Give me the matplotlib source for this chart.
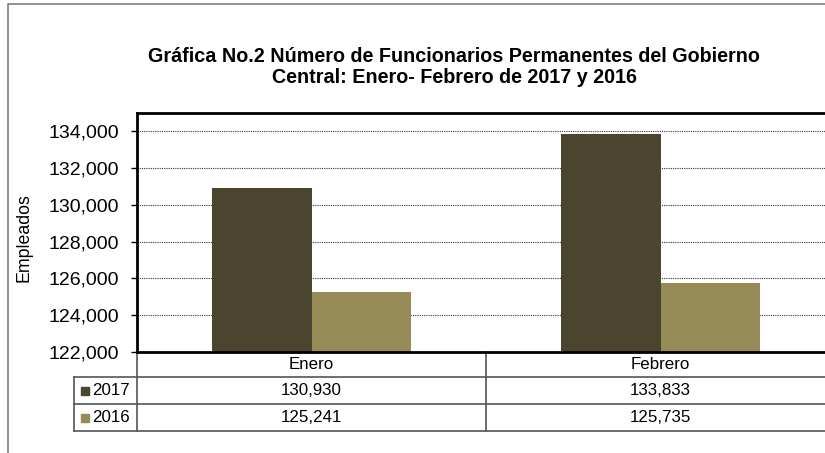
import numpy as np
import matplotlib.pyplot as plt
from matplotlib.transforms import blended_transform_factory
from matplotlib.patches import Rectangle
from matplotlib.lines import Line2D

plt.rcParams['font.family'] = ['Liberation Sans', 'DejaVu Sans']

meses = ['Enero', 'Febrero']
series = ['2017', '2016']
v2017 = [130930, 133833]
v2016 = [125241, 125735]
colores = ['#4b4530', '#978c57']
yticks = [122000, 124000, 126000, 128000, 130000, 132000, 134000]

W, H = 825, 453
fig = plt.figure(figsize=(W / 100, H / 100), dpi=100)

# outer chart border (gray), only top and left visible
fig.patches.append(Rectangle((8 / W, -0.1), 2, (H - 4) / H + 0.1, transform=fig.transFigure,
                             fill=False, edgecolor='#7f7f7f', lw=1.2))

ax = fig.add_axes([137 / W, 1 - 352 / H, 698 / W, 239 / H])
x = np.arange(len(meses)) + 0.5
bw = 0.286
valores = [v2017, v2016]
for i, (s, vals) in enumerate(zip(series, valores)):
    ax.bar(x + (i - 0.5) * bw, vals, bw, color=colores[i], zorder=2)

ax.set_xlim(0, 2)
ax.set_ylim(122000, 135000)
ax.set_yticks(yticks)
ax.set_yticklabels([f'{t:,}' for t in yticks], fontsize=14)
ax.set_xticks([])
ax.yaxis.grid(True, linestyle=(0, (1, 1)), color='#333333', lw=0.8, zorder=1)
ax.tick_params(axis='y', direction='out', length=4, width=1, pad=9)
for sp in ['left', 'top', 'bottom']:
    ax.spines[sp].set_linewidth(2)
ax.spines['right'].set_visible(False)
fig.text(24 / W, 1 - 238 / H, 'Empleados', rotation=90, ha='center', va='center', fontsize=12.8)

fig.text(454 / W, 1 - 67 / H, 'Gráfica No.2 Número de Funcionarios Permanentes del Gobierno\nCentral: Enero- Febrero de 2017 y 2016',
         ha='center', va='center', fontsize=14.2, fontweight='bold', linespacing=1.1)

# data table under the axis
tr = blended_transform_factory(ax.transData, ax.transAxes)
ah = 239.0
y_hdr = -25 / ah
y_r1 = -52 / ah
y_r2 = -79 / ah
xl = -63 / 349
lc = '#555555'
lines = [
    ([xl, 2.1], [y_r1, y_r1]),
    ([xl, 2.1], [y_r2, y_r2]),
    ([xl, 2.1], [y_hdr, y_hdr]),
    ([0, 0], [0, y_r2]),
    ([1, 1], [0, y_r2]),
    ([xl, xl], [y_hdr, y_r2]),
]
for xs, ys in lines:
    ax.add_line(Line2D(xs, ys, transform=tr, color=lc, lw=1.2, clip_on=False))

for xi, m in zip(x, meses):
    ax.text(xi, y_hdr / 2, m, transform=tr, ha='center', va='center', fontsize=12.2)
rows_y = [(y_hdr + y_r1) / 2, (y_r1 + y_r2) / 2]
for ry, s, vals, c in zip(rows_y, series, valores, colores):
    ax.add_patch(Rectangle((xl + 7 / 349, ry - 4 / ah), 8 / 349, 8 / ah, transform=tr,
                           color=c, clip_on=False))
    ax.text(xl + 18 / 349, ry, s, transform=tr, ha='left', va='center', fontsize=12.2)
    for xi, v in zip(x, vals):
        ax.text(xi, ry, f'{v:,}', transform=tr, ha='center', va='center', fontsize=12.2)

fig.savefig('out.png', dpi=100)
